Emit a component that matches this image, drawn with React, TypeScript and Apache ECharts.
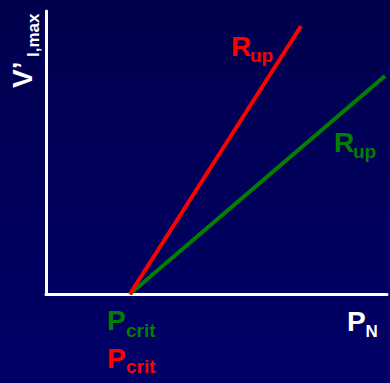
import React, { useEffect, useRef } from "react";
import * as echarts from "echarts";

// Critical point on the P_N axis and the end points of both R_up lines
const redLine: [number, number][] = [
  [2.46, 0],
  [7.48, 9.47],
];
const greenLine: [number, number][] = [
  [2.46, 0],
  [9.94, 7.7],
];
const axisRange = { min: 0, max: 10 };

const FONT = "'Liberation Sans', Arial, sans-serif";

function txt(
  text: string,
  x: number,
  y: number,
  size: number,
  fill: string,
  rotation = 0
) {
  return {
    type: "text",
    x,
    y,
    rotation,
    silent: true,
    style: {
      text,
      fill,
      font: `bold ${size}px ${FONT}`,
      align: "left",
      verticalAlign: "middle",
    },
  };
}

export default function App() {
  const ref = useRef<HTMLDivElement>(null);
  useEffect(() => {
    if (!ref.current) return;
    const chart = echarts.init(ref.current, undefined, { renderer: "svg" });
    chart.setOption({
      animation: false,
      backgroundColor: {
        type: "linear",
        x: 0,
        y: 0,
        x2: 0,
        y2: 1,
        colorStops: [
          { offset: 0, color: "#00004e" },
          { offset: 1, color: "#000068" },
        ],
      },
      grid: { left: 46, right: 3, top: 11, bottom: 89, containLabel: false },
      xAxis: {
        type: "value",
        min: axisRange.min,
        max: axisRange.max,
        axisLine: { show: true, onZero: false, lineStyle: { color: "#ffffff", width: 3 } },
        axisTick: { show: false },
        axisLabel: { show: false },
        splitLine: { show: false },
      },
      yAxis: {
        type: "value",
        min: axisRange.min,
        max: axisRange.max,
        axisLine: { show: true, onZero: false, lineStyle: { color: "#ffffff", width: 3 } },
        axisTick: { show: false },
        axisLabel: { show: false },
        splitLine: { show: false },
      },
      series: [
        {
          type: "line",
          data: greenLine,
          symbol: "none",
          lineStyle: { color: "#008000", width: 4 },
          z: 3,
        },
        {
          type: "line",
          data: redLine,
          symbol: "none",
          lineStyle: { color: "#ff0000", width: 4 },
          z: 4,
        },
      ],
      graphic: [
        // y axis label (rotated)
        txt("V’", 22, 88, 28, "#ffffff", Math.PI / 2),
        txt("I,max", 33.3, 57, 17, "#ffffff", Math.PI / 2),
        // red R_up
        txt("R", 231, 46.5, 28, "#ff0000"),
        txt("up", 250, 55.4, 19, "#ff0000"),
        // green R_up
        txt("R", 334, 142.5, 28, "#008000"),
        txt("up", 353, 151.4, 19, "#008000"),
        // P_crit labels
        txt("P", 107, 320, 28, "#008000"),
        txt("crit", 126, 330.4, 19, "#008000"),
        txt("P", 107, 358, 28, "#ff0000"),
        txt("crit", 126, 366.4, 19, "#ff0000"),
        // P_N
        txt("P", 347, 321.5, 28, "#ffffff"),
        txt("N", 365.5, 331, 17, "#ffffff"),
      ],
    });
    return () => chart.dispose();
  }, []);
  return (
    <div
      ref={ref}
      style={{ position: "absolute", left: 0, top: 0, width: 390, height: 383 }}
    />
  );
}
